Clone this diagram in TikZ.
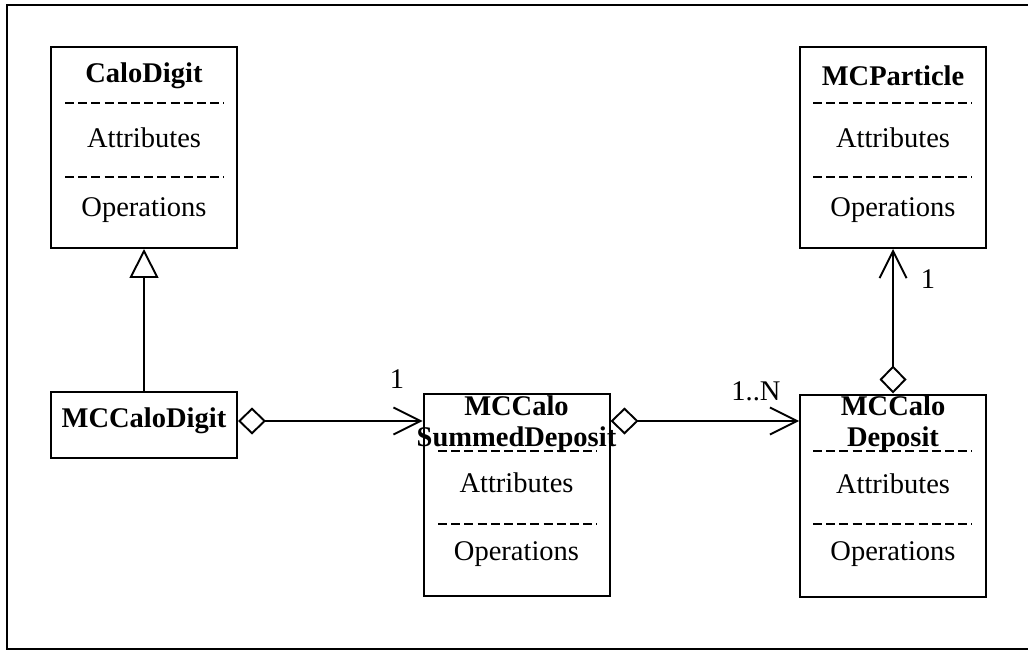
\documentclass[tikz,border=0pt]{standalone}
\usepackage{fontspec}
\setmainfont{Liberation Serif}
\usetikzlibrary{arrows.meta}
\tikzset{
  agg/.tip={Diamond[open, length=28pt, width=27pt, line width=1.9pt]},
  nav/.tip={Straight Barb[length=27pt, width=27pt, line width=1.9pt]},
  gen/.tip={Triangle[open, length=29pt, width=29pt, line width=1.9pt]}
}
\begin{document}
\begin{tikzpicture}[x=1pt,y=-1pt,
  cls/.style={draw, line width=2pt, minimum width=186pt, inner sep=0pt},
  ttl/.style={font=\fontsize{28.5}{30}\selectfont\bfseries, inner sep=0pt},
  txt/.style={font=\fontsize{28.5}{30}\selectfont, inner sep=0pt},
  sep/.style={line width=1.8pt, dash pattern=on 9pt off 4.2pt},
  conn/.style={line width=1.9pt}
]
\useasboundingbox (0,0) rectangle (1028,652);
% outer frame
\draw[line width=2pt] (1030,5) -- (7,5) -- (7,649) -- (1030,649);

% class boxes
\node[cls, minimum height=201pt] (cd)  at (144,147.5) {};
\node[cls, minimum height=201pt] (mcp) at (893,147.5) {};
\node[cls, minimum height=66pt]  (mcd) at (144,425) {};
\node[cls, minimum height=202pt] (sd)  at (516.5,495) {};
\node[cls, minimum height=202pt] (dep) at (893,495.5) {};

% CaloDigit
\node[ttl] (cdT) at (144,76) {CaloDigit};
\draw[sep] (65,103) -- (224,103);
\node[txt] (cdA) at (144,138) {Attributes};
\draw[sep] (65,177) -- (224,177);
\node[txt] (cdO) at (144,210) {Operations};

% MCParticle
\node[ttl] (mcpT) at (893,76) {MCParticle};
\draw[sep] (813,103) -- (972,103);
\node[txt] (mcpA) at (893,138) {Attributes};
\draw[sep] (813,177) -- (972,177);
\node[txt] (mcpO) at (893,210) {Operations};

% MCCaloDigit
\node[ttl] (mcdT) at (144,421) {MCCaloDigit};

% MCCaloSummedDeposit
\node[ttl] (sdT1) at (516.5,406) {MCCalo};
\node[ttl] (sdT2) at (516.5,440) {SummedDeposit};
\draw[sep] (438,451) -- (597,451);
\node[txt] (sdA) at (516.5,483) {Attributes};
\draw[sep] (438,524) -- (597,524);
\node[txt] (sdO) at (516.5,554) {Operations};

% MCCaloDeposit
\node[ttl] (depT1) at (893,406) {MCCalo};
\node[ttl] (depT2) at (893,440) {Deposit};
\draw[sep] (813,451) -- (972,451);
\node[txt] (depA) at (893,484) {Attributes};
\draw[sep] (813,524) -- (972,524);
\node[txt] (depO) at (893,554) {Operations};

% connectors
\coordinate (row) at (0,421);
\draw[conn, -{gen}] (mcd.north) -- (cd.south);
\draw[conn, {agg}-{nav}] (mcd.east |- row) -- (sd.west |- row);
\draw[conn, {agg}-{nav}] (sd.east |- row) -- (dep.west |- row);
\draw[conn, {agg}-{nav}] (dep.north) -- (mcp.south);

% multiplicities
\node[txt] (m1) at (397,379) {1};
\node[txt] (m2) at (756,391) {1..N};
\node[txt] (m3) at (928,279) {1};
\end{tikzpicture}
\end{document}
